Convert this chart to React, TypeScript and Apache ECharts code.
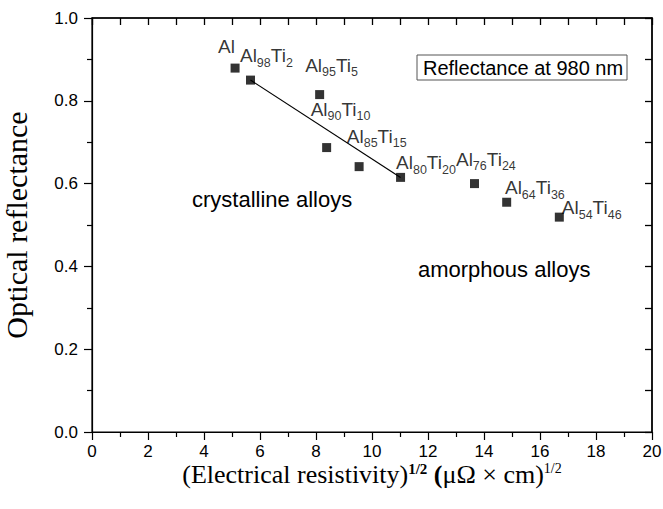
import React, { useEffect, useRef } from "react";
import * as echarts from "echarts";

// Data
const alContent = [100, 98, 95, 90, 85, 80, 76, 64, 54];
const tiContent = [0, 2, 5, 10, 15, 20, 24, 36, 46];
const resistivitySqrt = [5.11, 5.66, 8.13, 8.38, 9.54, 11.02, 13.66, 14.81, 16.69];
const reflectance = [0.879, 0.85, 0.815, 0.687, 0.641, 0.615, 0.6, 0.555, 0.519];

// straight line drawn between Al98Ti2 and Al80Ti20
const lineX = [5.66, 11.02];
const lineY = [0.85, 0.615];

// label placement (pixels relative to the marker centre)
const labelOffsets: [number, number][] = [
  [-17, -31],
  [-10.5, -34],
  [-14.5, -39],
  [-16, -48],
  [-12.3, -40],
  [-4.5, -24],
  [-18.5, -34],
  [-1.7, -24],
  [2.5, -19],
];

const SANS = "Liberation Sans";
const SERIF = "Liberation Serif";

function labelText(al: number, ti: number): string {
  if (ti === 0) return "{n|Al}";
  return `{n|Al}{s|${al}}{n|Ti}{s|${ti}}`;
}

export default function App() {
  const ref = useRef<HTMLDivElement>(null);
  useEffect(() => {
    if (!ref.current) return;
    const chart = echarts.init(ref.current, null, { renderer: "svg" });
    const points = resistivitySqrt.map((x, i) => ({
      value: [x, reflectance[i]],
      label: {
        show: true,
        position: "inside",
        align: "left",
        verticalAlign: "top",
        offset: labelOffsets[i],
        formatter: labelText(alContent[i], tiContent[i]),
        rich: {
          n: { fontFamily: SANS, fontSize: 19, lineHeight: 19, verticalAlign: "top", color: "#000" },
          s: { fontFamily: SANS, fontSize: 12.5, lineHeight: 12, padding: [10, 0, 0, 0], verticalAlign: "top", color: "#000" },
        },
      },
    }));
    const axisLine = () => ({ show: true, onZero: false, lineStyle: { color: "#000", width: 1.2 } });
    const tickStyle = () => ({ color: "#000", width: 1.2 });
    chart.setOption({
      animation: false,
      backgroundColor: "#fff",
      grid: {
        left: 92,
        right: 11,
        top: 18,
        bottom: 77,
        outerBoundsMode: "none",
        show: true,
        borderColor: "#000",
        borderWidth: 1.2,
        backgroundColor: "transparent",
      },
      xAxis: [
        {
          type: "value",
          position: "bottom",
          min: 0,
          max: 20,
          interval: 2,
          axisLine: axisLine(),
          axisTick: { show: true, length: 8, lineStyle: tickStyle() },
          minorTick: { show: true, splitNumber: 2, length: 5, lineStyle: tickStyle() },
          splitLine: { show: false },
          axisLabel: { fontFamily: SANS, fontSize: 17, color: "#000", margin: 11 },
          name: "{n|(Electrical resistivity)}{sb|1/2}{n| }{nb|(}{n|μΩ × cm)}{sp|1/2}",
          nameLocation: "middle",
          nameGap: 29,
          nameMoveOverlap: false,
          nameTextStyle: {
            fontFamily: SERIF,
            fontSize: 26,
            color: "#000",
            rich: {
              n: { fontFamily: SERIF, fontSize: 26, lineHeight: 26, verticalAlign: "bottom", color: "#000" },
              nb: { fontFamily: SERIF, fontSize: 26, lineHeight: 26, verticalAlign: "bottom", fontWeight: "bold", color: "#000" },
              sb: { fontFamily: SERIF, fontSize: 15, lineHeight: 15, verticalAlign: "top", fontWeight: "bold", color: "#000" },
              sp: { fontFamily: SERIF, fontSize: 14, lineHeight: 15, verticalAlign: "top", color: "#000" },
            },
          },
        },
        {
          type: "value",
          position: "top",
          min: 0,
          max: 20,
          interval: 1,
          axisLine: { show: true, onZero: false, lineStyle: { color: "#000", width: 1.5 } },
          axisTick: { show: true, inside: true, length: 7, lineStyle: { color: "#000", width: 1.3 } },
          splitLine: { show: false },
          axisLabel: { show: false },
        },
      ],
      yAxis: [
        {
          type: "value",
          position: "left",
          min: 0,
          max: 1,
          interval: 0.2,
          axisLine: axisLine(),
          axisTick: { show: true, length: 8, lineStyle: tickStyle() },
          minorTick: { show: true, splitNumber: 2, length: 5, lineStyle: tickStyle() },
          splitLine: { show: false },
          axisLabel: {
            fontFamily: SANS,
            fontSize: 17,
            color: "#000",
            margin: 14,
            formatter: (v: number) => v.toFixed(1),
          },
          name: "Optical reflectance",
          nameLocation: "middle",
          nameGap: 61,
          nameMoveOverlap: false,
          nameTextStyle: { fontFamily: SERIF, fontSize: 30, color: "#000" },
        },
        {
          type: "value",
          position: "right",
          min: 0,
          max: 1,
          interval: 0.1,
          axisLine: { show: true, onZero: false, lineStyle: { color: "#000", width: 1.5 } },
          axisTick: { show: true, inside: true, length: 7, lineStyle: { color: "#000", width: 1.3 } },
          splitLine: { show: false },
          axisLabel: { show: false },
        },
      ],
      series: [
        {
          type: "line",
          xAxisIndex: 1,
          yAxisIndex: 1,
          data: lineX.map((x, i) => [x, lineY[i]]),
          showSymbol: false,
          symbol: "none",
          lineStyle: { color: "#000", width: 1.2 },
          z: 1,
        },
        {
          type: "scatter",
          xAxisIndex: 0,
          yAxisIndex: 0,
          symbol: "rect",
          symbolSize: 9,
          itemStyle: { color: "#000" },
          data: points,
          z: 3,
        },
      ],
      graphic: [
        {
          type: "rect",
          shape: { x: 417, y: 55, width: 210, height: 25 },
          style: { fill: "#fff", stroke: "#555", lineWidth: 1 },
          z: 10,
        },
        {
          type: "text",
          x: 423,
          y: 67.5,
          style: { text: "Reflectance at 980 nm", fontFamily: SANS, fontSize: 20, fill: "#000", align: "left", verticalAlign: "middle" },
          z: 11,
        },
        {
          type: "text",
          x: 192,
          y: 199,
          style: { text: "crystalline alloys", fontFamily: SANS, fontSize: 22, fill: "#000", align: "left", verticalAlign: "middle" },
          z: 11,
        },
        {
          type: "text",
          x: 418,
          y: 269,
          style: { text: "amorphous alloys", fontFamily: SANS, fontSize: 22, fill: "#000", align: "left", verticalAlign: "middle" },
          z: 11,
        },
      ],
    });
    return () => chart.dispose();
  }, []);
  return (
    <div
      ref={ref}
      style={{ position: "absolute", left: 0, top: 0, width: 663, height: 509, background: "#fff" }}
    />
  );
}
